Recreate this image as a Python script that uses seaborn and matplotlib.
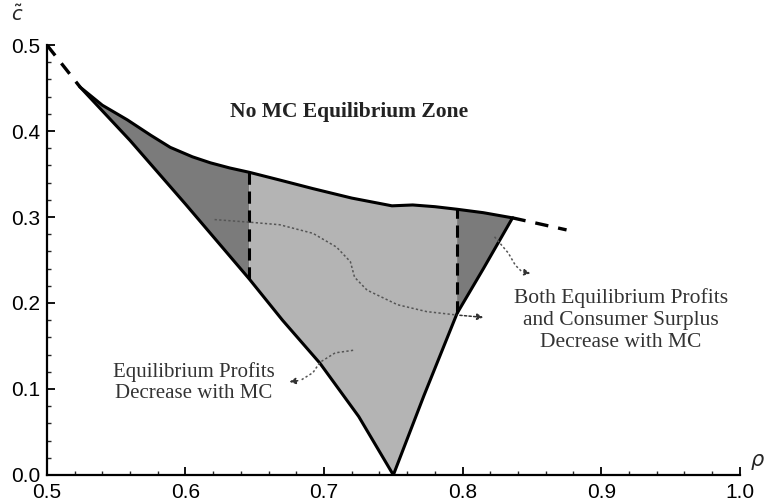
import numpy as np
import matplotlib
matplotlib.use("Agg")
import matplotlib.pyplot as plt
import seaborn as sns
from matplotlib.ticker import MultipleLocator, FormatStrFormatter

# upper boundary of the equilibrium zone (rho, c~)
upper_rho = [0.524, 0.540, 0.558, 0.575, 0.589, 0.605, 0.618, 0.632, 0.646,
             0.668, 0.692, 0.720, 0.749, 0.764, 0.780, 0.796, 0.815, 0.836]
upper_c = [0.451, 0.430, 0.413, 0.395, 0.381, 0.370, 0.363, 0.357, 0.352,
           0.343, 0.333, 0.322, 0.313, 0.314, 0.312, 0.309, 0.305, 0.299]

# lower boundary (left branch down to the cusp, right branch back up)
lower_rho = [0.524, 0.560, 0.600, 0.646, 0.670, 0.697, 0.725, 0.750,
             0.772, 0.796, 0.815, 0.836]
lower_c = [0.451, 0.389, 0.315, 0.228, 0.180, 0.130, 0.068, 0.000,
           0.092, 0.188, 0.240, 0.299]

# dashed extensions outside the zone
ext_left_rho = [0.500, 0.524]
ext_left_c = [0.500, 0.451]
ext_right_rho = [0.836, 0.875]
ext_right_c = [0.299, 0.285]

# region splits (vertical dashed lines)
split_rho = [0.646, 0.796]

# dotted annotation paths
arrow_mid_rho = [0.621, 0.646, 0.668, 0.692, 0.709, 0.719, 0.722, 0.731,
                 0.753, 0.774, 0.796, 0.817]
arrow_mid_c = [0.297, 0.294, 0.291, 0.281, 0.265, 0.248, 0.230, 0.215,
               0.198, 0.190, 0.186, 0.183]
arrow_left_rho = [0.721, 0.708, 0.697, 0.692, 0.683, 0.673]
arrow_left_c = [0.145, 0.142, 0.131, 0.119, 0.110, 0.108]
arrow_right_rho = [0.823, 0.833, 0.838, 0.843, 0.851]
arrow_right_c = [0.277, 0.258, 0.244, 0.236, 0.234]

labels = {
    "zone": "No MC Equilibrium Zone",
    "profits": "Equilibrium Profits\nDecrease with MC",
    "both": "Both Equilibrium Profits\nand Consumer Surplus\nDecrease with MC",
}

DARK = "#7b7b7b"
LIGHT = "#b4b4b4"

sns.set_theme(style="ticks")
plt.rcParams["font.family"] = ["Liberation Sans", "DejaVu Sans"]

fig = plt.figure(figsize=(7.69, 5.03), dpi=100)
ax = fig.add_axes([0.061, 0.0557, 0.901, 0.8548])

up_r, up_c = np.array(upper_rho), np.array(upper_c)
lo_r, lo_c = np.array(lower_rho), np.array(lower_c)


def region(r0, r1):
    mu = (up_r >= r0) & (up_r <= r1)
    ml = (lo_r >= r0) & (lo_r <= r1)
    xs = np.concatenate([up_r[mu], lo_r[ml][::-1]])
    ys = np.concatenate([up_c[mu], lo_c[ml][::-1]])
    return xs, ys


for (r0, r1), col in [((0, split_rho[0]), DARK),
                      ((split_rho[0], split_rho[1]), LIGHT),
                      ((split_rho[1], 1), DARK)]:
    xs, ys = region(r0, r1)
    ax.fill(xs, ys, color=col, lw=0, zorder=1)

sns.lineplot(x=upper_rho, y=upper_c, sort=False, color="black", lw=2.2, ax=ax, zorder=3)
sns.lineplot(x=lower_rho, y=lower_c, sort=False, color="black", lw=2.2, ax=ax, zorder=3)
for xr, yc in [(ext_left_rho, ext_left_c), (ext_right_rho, ext_right_c)]:
    ax.plot(xr, yc, color="black", lw=2.4, dashes=(4, 3), zorder=3)

for s in split_rho:
    i_u = upper_rho.index(s)
    i_l = lower_rho.index(s)
    ax.plot([s, s], [lower_c[i_l], upper_c[i_u]], color="black", lw=2.2,
            dashes=(4, 2.2), zorder=3)

for xr, yc in [(arrow_mid_rho, arrow_mid_c), (arrow_left_rho, arrow_left_c),
               (arrow_right_rho, arrow_right_c)]:
    ax.plot(xr[:-1], yc[:-1], color="#555555", lw=1.1, ls=(0, (1.5, 1.5)), zorder=4)
    ax.annotate("", xy=(xr[-1], yc[-1]), xytext=(xr[-2], yc[-2]),
                arrowprops=dict(arrowstyle="-|>", color="#333333", lw=1.1,
                                linestyle=(0, (1.5, 1.5)), mutation_scale=9),
                zorder=4)

serif = ["Liberation Serif", "DejaVu Serif"]
ax.text(0.718, 0.422, labels["zone"], ha="center", va="center", fontsize=15.5,
        fontweight="bold", family=serif, color="#222222")
ax.text(0.606, 0.108, labels["profits"], ha="center", va="center", fontsize=15,
        family=serif, color="#333333", linespacing=1.15)
ax.text(0.914, 0.180, labels["both"], ha="center", va="center", fontsize=15.5,
        family=serif, color="#333333", linespacing=1.2)

ax.set_xlim(0.5, 1.0)
ax.set_ylim(0.0, 0.5)
ax.xaxis.set_major_locator(MultipleLocator(0.1))
ax.yaxis.set_major_locator(MultipleLocator(0.1))
ax.xaxis.set_minor_locator(MultipleLocator(0.02))
ax.yaxis.set_minor_locator(MultipleLocator(0.02))
ax.tick_params(which="major", direction="in", length=6, width=1.3, labelsize=15,
               colors="black")
ax.tick_params(axis="x", which="major", pad=6)
ax.tick_params(axis="y", which="major", pad=5)
ax.tick_params(which="minor", direction="in", length=3, width=1.0)
ax.xaxis.set_major_formatter(FormatStrFormatter("%.1f"))
ax.yaxis.set_major_formatter(FormatStrFormatter("%.1f"))
sns.despine(ax=ax)
for sp in ("left", "bottom"):
    ax.spines[sp].set_linewidth(1.6)
    ax.spines[sp].set_color("black")
ax.set_facecolor("white")

ax.text(-0.043, 1.07, r"$\tilde{c}$", transform=ax.transAxes, ha="center",
        va="center", fontsize=14)
ax.text(1.025, 0.03, r"$\rho$", transform=ax.transAxes, ha="center",
        va="center", fontsize=15)

fig.savefig("out.png", dpi=100)
